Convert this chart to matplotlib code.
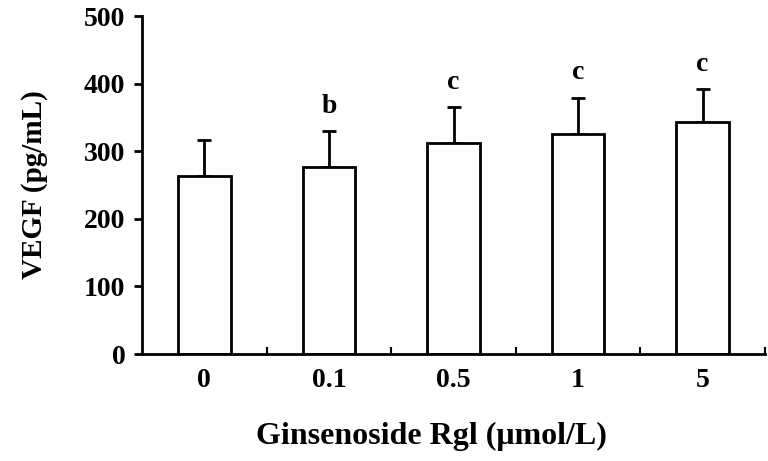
import numpy as np
import matplotlib.pyplot as plt
from matplotlib.ticker import FixedLocator

plt.rcParams['font.family'] = ['Liberation Serif', 'DejaVu Serif']
plt.rcParams['font.weight'] = 'bold'
plt.rcParams['font.size'] = 20

# data
doses = ['0', '0.1', '0.5', '1', '5']
vegf = [263, 277, 312, 325, 343]
vegf_sd = [54, 53, 53, 54, 49]
marks = ['', 'b', 'c', 'c', 'c']

fig = plt.figure(figsize=(7.68, 4.61), dpi=100)
ax = fig.add_axes([0.185, 0.232, 0.811, 0.733])

x = np.arange(len(doses))
ax.bar(x, vegf, width=0.42, color='white', edgecolor='black', linewidth=2, zorder=2)
ax.errorbar(x, vegf, yerr=[np.zeros(len(x)), vegf_sd], fmt='none', ecolor='black',
            elinewidth=2, capsize=5, capthick=2, zorder=1)

# significance letters above the error bars
for xi, v, s, m in zip(x, vegf, vegf_sd, marks):
    if m:
        ax.annotate(m, (xi, v + s), xytext=(0, 9), textcoords='offset points',
                    ha='center', va='bottom', fontsize=20, fontweight='bold')

ax.set_xlim(-0.5, 4.5)
ax.set_ylim(0, 500)
ax.set_yticks([0, 100, 200, 300, 400, 500])
ax.set_xticks(x)
ax.set_xticklabels(doses)
ax.xaxis.set_minor_locator(FixedLocator(np.arange(0.5, 5, 1)))
ax.tick_params(axis='x', which='major', length=0, pad=10)
ax.tick_params(axis='x', which='minor', direction='in', length=5, width=1.5)
ax.tick_params(axis='y', direction='out', length=6, width=2, pad=6)

for side in ['top', 'right']:
    ax.spines[side].set_visible(False)
for side in ['left', 'bottom']:
    ax.spines[side].set_linewidth(2)

ax.set_ylabel('VEGF (pg/mL)', fontsize=21, fontweight='bold', labelpad=26)
ax.set_xlabel('Ginsenoside Rgl (μmol/L)', fontsize=23, fontweight='bold')
ax.xaxis.set_label_coords(0.465, -0.2)

fig.savefig('out.png', dpi=100)
